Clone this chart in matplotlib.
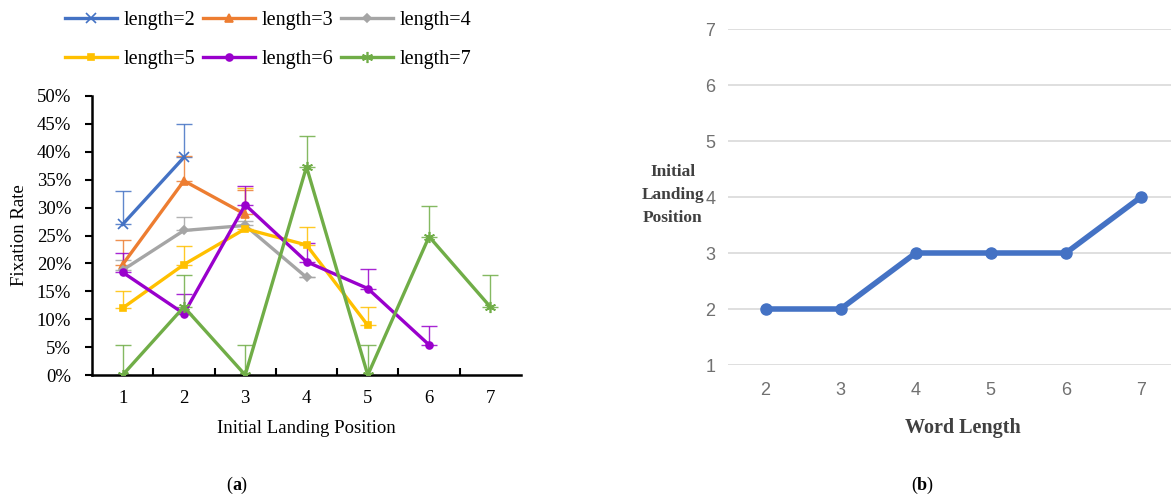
import matplotlib.pyplot as plt
import numpy as np

# Panel (a): fixation rate (%) by initial landing position, per word length
positions = [1, 2, 3, 4, 5, 6, 7]
series_labels = ["length=2", "length=3", "length=4", "length=5", "length=6", "length=7"]
rate_len2 = [27.0, 39.0]
rate_len3 = [19.8, 34.8, 28.8]
rate_len4 = [18.8, 25.9, 26.8, 17.5]
rate_len5 = [12.0, 19.8, 26.2, 23.3, 8.9]
rate_len6 = [18.4, 11.0, 30.5, 20.3, 15.5, 5.4]
rate_len7 = [0.0, 12.2, 0.0, 37.3, 0.0, 24.8, 12.2]
# upper error (%)
err_len2 = [5.9, 6.0]
err_len3 = [4.4, 4.4, 4.4]
err_len4 = [1.8, 2.4, 0.8, 0.0]
err_len5 = [3.1, 3.3, 7.3, 3.3, 3.2]
err_len6 = [3.5, 3.6, 3.3, 3.3, 3.5, 3.4]
err_len7 = [5.3, 5.7, 5.3, 5.5, 5.3, 5.4, 5.7]
y_ticks_a = [0, 5, 10, 15, 20, 25, 30, 35, 40, 45, 50]

# Panel (b): initial landing position by word length
word_length = [2, 3, 4, 5, 6, 7]
landing_pos = [2, 2, 3, 3, 3, 4]

rates = [rate_len2, rate_len3, rate_len4, rate_len5, rate_len6, rate_len7]
errs = [err_len2, err_len3, err_len4, err_len5, err_len6, err_len7]
colors = ["#4472C4", "#ED7D31", "#A5A5A5", "#FFC000", "#9900CC", "#70AD47"]
markers = ["x", "^", "D", "s", "o", (6, 2, 0)]
msizes = [7, 6, 4, 5, 5, 8]

plt.rcParams['font.family'] = ['Liberation Serif', 'DejaVu Serif']

fig = plt.figure(figsize=(11.71, 4.96), dpi=100)

# ---- panel (a)
ax = fig.add_axes([92 / 1171, 1 - 375 / 496, (521 - 92) / 1171, (375 - 96) / 496])
handles = []
for r, e, c, m, ms, lab in zip(rates, errs, colors, markers, msizes, series_labels):
    x = positions[:len(r)]
    ax.errorbar(x, r, yerr=[np.zeros(len(e)), e], fmt='none', ecolor=c,
                elinewidth=1.0, capsize=6, capthick=1.0, alpha=0.85, zorder=2)
    h, = ax.plot(x, r, color=c, lw=2.4, marker=m, ms=ms, mew=1.2, label=lab, zorder=3)
    handles.append(h)

ax.set_xlim(0.5, 7.5)
ax.set_ylim(0, 50)
ax.set_yticks(y_ticks_a)
ax.set_yticklabels([f"{v}%" for v in y_ticks_a])
ax.set_xticks(positions)
ax.set_xticks(np.arange(1.5, 7.5, 1), minor=True)
ax.tick_params(axis='x', which='major', length=0, labelsize=13.5, pad=11)
ax.tick_params(axis='x', which='minor', direction='in', length=5, width=1.5)
ax.tick_params(axis='y', direction='out', length=5, width=1.5, labelsize=13.5, pad=10)
for s in ['top', 'right']:
    ax.spines[s].set_visible(False)
for s in ['left', 'bottom']:
    ax.spines[s].set_linewidth(1.8)
ax.set_xlabel("Initial Landing Position", fontsize=13.5, labelpad=9)
ax.set_ylabel("Fixation Rate", fontsize=13.5, labelpad=6)

order = [0, 3, 1, 4, 2, 5]
fig.legend([handles[i] for i in order], [series_labels[i] for i in order],
           ncol=3, frameon=False, fontsize=14.5, loc='center',
           bbox_to_anchor=(268 / 1171, 1 - 40 / 496), handlelength=2.6,
           handletextpad=0.3, columnspacing=0.4, labelspacing=1.0)

# ---- panel (b)
bx = fig.add_axes([728 / 1171, 1 - 365 / 496, (1171 - 728) / 1171, (365 - 29) / 496])
bx.plot(word_length, landing_pos, color="#4472C4", lw=4, marker='o', ms=8, zorder=3)
bx.set_xlim(1.5, 7.4)
bx.set_ylim(1, 7)
bx.set_yticks(range(1, 8))
bx.set_xticks(word_length)
bx.grid(axis='y', color="#D9D9D9", lw=1.2)
bx.set_axisbelow(True)
for s in bx.spines.values():
    s.set_visible(False)
bx.tick_params(length=0, colors="#707070", labelsize=13, pad=12)
bx.tick_params(axis='y', pad=9)
for t in bx.get_xticklabels() + bx.get_yticklabels():
    t.set_family(['Liberation Sans', 'DejaVu Sans'])
fig.text(963 / 1171, 1 - 428 / 496, "Word Length", ha='center', va='center',
         fontsize=14.5, fontweight='bold', color="#404040")
fig.text(673 / 1171, 1 - 195 / 496, "Initial\nLanding\nPosition", ha='center', va='center',
         fontsize=12.5, fontweight='bold', color="#404040", linespacing=1.6)

# captions
fig.text(232 / 1171, 1 - 485 / 496, "(", ha='right', va='center', fontsize=13)
fig.text(232 / 1171, 1 - 485 / 496, "a", ha='left', va='center', fontsize=13, fontweight='bold')
fig.text(240 / 1171, 1 - 485 / 496, ")", ha='left', va='center', fontsize=13)
fig.text(917 / 1171, 1 - 485 / 496, "(", ha='right', va='center', fontsize=13)
fig.text(917 / 1171, 1 - 485 / 496, "b", ha='left', va='center', fontsize=13, fontweight='bold')
fig.text(926 / 1171, 1 - 485 / 496, ")", ha='left', va='center', fontsize=13)

fig.savefig("out.png", dpi=100)
